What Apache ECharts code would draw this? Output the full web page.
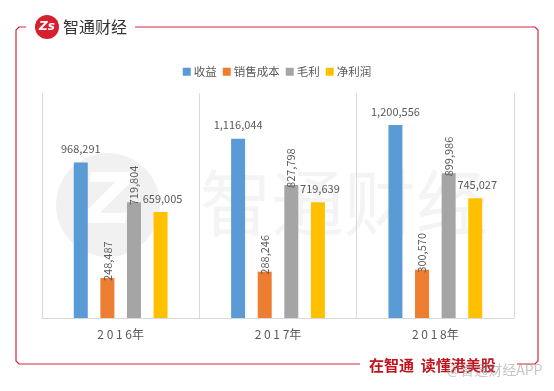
<!DOCTYPE html>
<html><head><meta charset="utf-8">
<script src="https://cdn.jsdelivr.net/npm/echarts@6/dist/echarts.min.js"></script>
<style>html,body{margin:0;padding:0;background:#fff}#c{width:554px;height:391px}</style>
</head><body><div id="c"></div>
<script>
var categories = ['2016年', '2017年', '2018年'];
var seriesNames = ['收益', '销售成本', '毛利', '净利润'];
var revenue = [968291, 1116044, 1200556];
var cost = [248487, 288246, 300570];
var grossProfit = [719804, 827798, 899986];
var netProfit = [659005, 719639, 745027];
var colors = ['#5B9BD5', '#ED7D31', '#A5A5A5', '#FFC000'];

var FONT = '"Noto Sans CJK SC", "Noto Sans", sans-serif';
var fmt = function (p) { return p.value.toLocaleString('en-US'); };
var hLabel = { show: true, position: 'top', distance: 8, color: '#595959', fontSize: 11, fontFamily: FONT, formatter: fmt };
var vLabel = { show: true, position: 'top', distance: -3, rotate: 90, align: 'left', verticalAlign: 'middle', color: '#595959', fontSize: 11, fontFamily: FONT, formatter: fmt };

var chart = echarts.init(document.getElementById('c'));
var red = '#D2283C';
chart.setOption({
  animation: false,
  backgroundColor: '#fff',
  color: colors,
  textStyle: { fontFamily: FONT },
  legend: {
    top: 61, left: 'center', itemWidth: 8, itemHeight: 8, itemGap: 6,
    icon: 'rect',
    textStyle: { color: '#595959', fontSize: 11.5, fontFamily: FONT, padding: [0, 0, 0, -2] },
    data: seriesNames
  },
  grid: { left: 42, right: 40, top: 93, bottom: 73 },
  xAxis: {
    type: 'category', data: categories,
    axisLine: { lineStyle: { color: '#d9d9d9' } },
    axisTick: { show: false },
    splitLine: { show: true, lineStyle: { color: '#d9d9d9' } },
    axisLabel: { color: '#595959', fontSize: 12, margin: 10, fontFamily: FONT,
      formatter: function (v) { return v.replace(/(\d)(?=\d)/g, '$1 '); } }
  },
  yAxis: { type: 'value', min: 0, max: 1400000, show: false, splitLine: { show: false } },
  graphic: [
    { type: 'circle', shape: { cx: 108, cy: 205, r: 52 }, style: { fill: 'rgba(0,0,0,0.055)' }, z: -1 },
    { type: 'text', style: { x: 108, y: 205, text: 'Z', fill: 'rgba(255,255,255,0.9)', fontSize: 70, fontWeight: 'bold', fontStyle: 'italic', align: 'center', verticalAlign: 'middle', fontFamily: 'DejaVu Sans' }, z: -1 },
    { type: 'text', style: { x: 200, y: 203, text: '智通财经', fill: 'rgba(0,0,0,0.045)', fontSize: 72, verticalAlign: 'middle', fontFamily: FONT }, z: -1 },
    { type: 'polyline', shape: { points: [[26, 27], [19, 27], [16, 30], [16, 361], [19, 364], [360, 364]] }, style: { stroke: red, lineWidth: 1.2, fill: null } },
    { type: 'polyline', shape: { points: [[135, 27], [535, 27], [538, 30], [538, 361], [535, 364], [517, 364]] }, style: { stroke: red, lineWidth: 1.2, fill: null } },
    { type: 'circle', shape: { cx: 47, cy: 27, r: 12 }, style: { fill: '#D7202E' } },
    { type: 'text', style: { x: 47, y: 27, text: 'Zs', fill: '#fff', fontSize: 12, fontWeight: 'bold', fontStyle: 'italic', align: 'center', verticalAlign: 'middle', fontFamily: 'DejaVu Sans' } },
    { type: 'text', style: { x: 63, y: 27, text: '智通财经', fill: '#333', fontSize: 16, verticalAlign: 'middle', fontFamily: FONT } },
    { type: 'text', style: { x: 369, y: 365, text: '在智通  读懂港美股', fill: '#C0141E', fontSize: 15, fontWeight: 'bold', verticalAlign: 'middle', fontFamily: FONT } },
    { type: 'text', style: { x: 447, y: 370, text: '@智通财经APP', fill: 'rgba(150,150,150,0.55)', fontSize: 14, verticalAlign: 'middle', fontFamily: FONT } }
  ],
  series: [
    { name: seriesNames[0], type: 'bar', data: revenue, barWidth: 14, barGap: '90%', label: hLabel },
    { name: seriesNames[1], type: 'bar', data: cost, barWidth: 14, barGap: '90%', label: vLabel },
    { name: seriesNames[2], type: 'bar', data: grossProfit, barWidth: 14, barGap: '90%', label: vLabel },
    { name: seriesNames[3], type: 'bar', data: netProfit, barWidth: 14, barGap: '90%', label: Object.assign({}, hLabel, { offset: [2, 0] }) }
  ]
});
</script></body></html>
